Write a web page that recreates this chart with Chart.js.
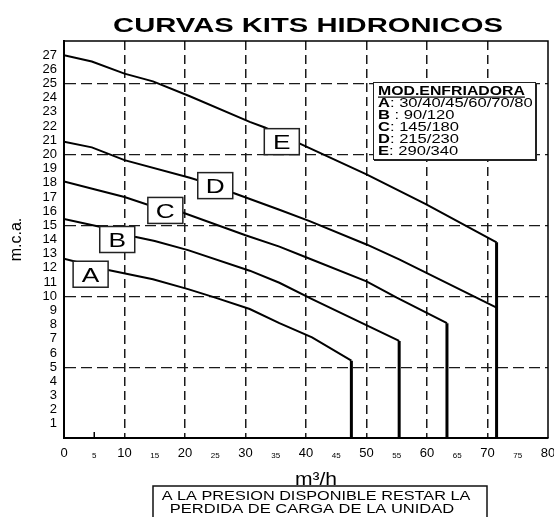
<!DOCTYPE html>
<html>
<head>
<meta charset="utf-8">
<script src="https://cdn.jsdelivr.net/npm/chart.js@4.4.1/dist/chart.umd.min.js"></script>
<style>
  html, body { margin: 0; padding: 0; background: #fff; }
  #wrap { width: 554px; height: 517px; position: relative; }
</style>
</head>
<body>
<div id="wrap"><canvas id="kitsChart"></canvas></div>
<script>
const flowA = [0, 7.3, 14.7, 20.5, 25, 30.7, 35.6, 41, 47.5, 47.5];
const headA = [12.65, 11.85, 11.2, 10.5, 9.9, 9.1, 8.1, 7.1, 5.45, 0];

const flowB = [0, 5.9, 11.7, 15, 20.5, 30.7, 35.6, 41, 55.4, 55.4];
const headB = [15.45, 14.9, 14.2, 13.9, 13.25, 11.8, 10.95, 9.8, 6.85, 0];

const flowC = [0, 5, 10, 16.7, 19.6, 30, 35.6, 40, 50, 55, 63.3, 63.3];
const headC = [18.1, 17.55, 17.0, 16.05, 15.9, 14.3, 13.5, 12.75, 11.05, 9.9, 8.1, 0];

const flowD = [0, 4.6, 10, 20.8, 25, 27.9, 35.6, 40.6, 50, 55.4, 71.5];
const headD = [20.9, 20.5, 19.6, 18.35, 17.8, 17.3, 16.1, 15.3, 13.65, 12.6, 9.2];

const flowE = [0, 4.6, 10, 14.7, 20.8, 30.7, 33.2, 38.8, 50, 59.8, 71.5, 71.5];
const headE = [27.0, 26.55, 25.7, 25.15, 24.1, 22.3, 21.9, 20.8, 18.6, 16.5, 13.8, 0];

const curveNames = ['A', 'B', 'C', 'D', 'E'];
// donde va la etiqueta de cada curva (m3/h, m.c.a.)
const labelFlow = [4.4, 8.8, 16.75, 25.0, 36.0];
const labelHead = [11.55, 14.0, 16.05, 17.8, 20.9];

const legendTitle = 'MOD.ENFRIADORA';
const legendSeps = [': ', ' : ', ': ', ': ', ': '];
const legendModels = ['30/40/45/60/70/80', '90/120', '145/180', '215/230', '290/340'];

const chartTitle = 'CURVAS KITS HIDRONICOS';
const xTitle = 'm\u00B3/h';
const yTitle = 'm.c.a.';
const noteLines = ['A LA PRESION DISPONIBLE RESTAR LA', 'PERDIDA DE CARGA DE LA UNIDAD'];

const FONT = "'Liberation Sans', Arial, sans-serif";

function points(xs, ys) {
    return xs.map((x, i) => ({ x: x, y: ys[i] }));
}

function stretchText(ctx, text, x, y, font, sx, align) {
    ctx.save();
    ctx.font = font;
    ctx.translate(x, y);
    ctx.scale(sx, 1);
    ctx.textAlign = align || 'left';
    ctx.textBaseline = 'alphabetic';
    ctx.fillStyle = '#000';
    ctx.fillText(text, 0, 0);
    const w = ctx.measureText(text).width * sx;
    ctx.restore();
    return w;
}

const decorations = {
    id: 'decorations',
    afterDraw(chart) {
        const ctx = chart.ctx;
        const area = chart.chartArea;
        const xs = chart.scales.x;
        const ys = chart.scales.y;

        // marco superior y derecho, y la marquita del 5
        ctx.save();
        ctx.strokeStyle = '#000';
        ctx.lineWidth = 1.5;
        ctx.beginPath();
        ctx.moveTo(area.left, area.top);
        ctx.lineTo(area.right, area.top);
        ctx.lineTo(area.right, area.bottom);
        const x5 = xs.getPixelForValue(5);
        ctx.moveTo(x5, area.bottom);
        ctx.lineTo(x5, area.bottom - 6);
        ctx.stroke();
        ctx.restore();

        // etiquetas de las curvas
        curveNames.forEach((name, i) => {
            const cx = xs.getPixelForValue(labelFlow[i]);
            const cy = ys.getPixelForValue(labelHead[i]);
            ctx.save();
            ctx.fillStyle = '#fff';
            ctx.fillRect(cx - 17.5, cy - 13, 35, 26);
            ctx.strokeStyle = '#222';
            ctx.lineWidth = 1.5;
            ctx.strokeRect(cx - 17.5, cy - 13, 35, 26);
            ctx.restore();
            stretchText(ctx, name, cx, cy + 7.5, '21px ' + FONT, 1.25, 'center');
        });

        // cuadro de modelos
        ctx.save();
        ctx.fillStyle = '#fff';
        ctx.fillRect(373, 82, 163, 78);
        ctx.strokeStyle = '#222';
        ctx.lineWidth = 1;
        ctx.strokeRect(373.5, 82.5, 162, 77);
        ctx.lineWidth = 2;
        ctx.beginPath();
        ctx.moveTo(536, 83);
        ctx.lineTo(536, 160);
        ctx.lineTo(374, 160);
        ctx.stroke();
        ctx.restore();

        const hw = stretchText(ctx, legendTitle, 378, 95, 'bold 12px ' + FONT, 1.32, 'left');
        ctx.save();
        ctx.fillStyle = '#000';
        ctx.fillRect(378, 96.5, hw, 1.2);
        ctx.restore();

        const baselines = [107, 119, 131, 143.3, 155];
        curveNames.forEach((name, i) => {
            const w = stretchText(ctx, name, 378, baselines[i], 'bold 12px ' + FONT, 1.38, 'left');
            stretchText(ctx, legendSeps[i] + legendModels[i], 378 + w, baselines[i], '12px ' + FONT, 1.38, 'left');
        });

        // titulo
        stretchText(ctx, chartTitle, 308, 32, 'bold 21px ' + FONT, 1.39, 'center');

        // titulo eje x
        stretchText(ctx, xTitle, 316, 485, '18px ' + FONT, 1.17, 'center');

        // nota inferior
        ctx.save();
        ctx.strokeStyle = '#111';
        ctx.lineWidth = 1.5;
        ctx.strokeRect(153, 486, 334, 40);
        ctx.restore();
        stretchText(ctx, noteLines[0], 316, 500, '13px ' + FONT, 1.25, 'center');
        stretchText(ctx, noteLines[1], 312, 512.5, '13px ' + FONT, 1.27, 'center');
    }
};

function curve(xs, ys) {
    return {
        data: points(xs, ys),
        borderColor: '#000',
        borderWidth: 2,
        pointRadius: 0,
        fill: false,
        tension: 0,
        segment: {
            borderWidth: c => (c.p1.parsed.y === 0 ? 3 : 2)
        }
    };
}

document.addEventListener('DOMContentLoaded', function() {
    const ctx = document.getElementById('kitsChart').getContext('2d');

    const config = {
        type: 'line',
        data: {
            datasets: [
                curve(flowA, headA),
                curve(flowB, headB),
                curve(flowC, headC),
                curve(flowD, headD),
                curve(flowE, headE)
            ]
        },
        options: {
            responsive: true,
            maintainAspectRatio: false,
            animation: false,
            layout: { padding: { top: 41, left: 0, right: 6, bottom: 0 } },
            plugins: {
                legend: { display: false },
                title: { display: false },
                tooltip: { enabled: false }
            },
            scales: {
                x: {
                    type: 'linear',
                    min: 0,
                    max: 80,
                    afterFit: function(scale) {
                        scale.height = 79;
                        scale.paddingLeft = 0;
                        scale.paddingRight = 0;
                    },
                    ticks: {
                        stepSize: 5,
                        autoSkip: false,
                        maxRotation: 0,
                        padding: 8,
                        color: '#000',
                        font: c => (c.tick && c.tick.value % 10 === 0)
                            ? { family: FONT, size: 13, lineHeight: 1.2 }
                            : { family: FONT, size: 8, lineHeight: 2.4 }
                    },
                    grid: {
                        drawTicks: false,
                        lineWidth: 1.5,
                        color: c => {
                            const v = c.tick ? c.tick.value : 0;
                            return (v % 10 === 0 && v > 0 && v < 80) ? '#1a1a1a' : 'rgba(0,0,0,0)';
                        }
                    },
                    border: { display: true, color: '#000', width: 2, dash: [9, 5] }
                },
                y: {
                    min: 0,
                    max: 28,
                    afterFit: function(scale) {
                        scale.width = 64;
                    },
                    ticks: {
                        stepSize: 1,
                        autoSkip: false,
                        padding: 7,
                        color: '#000',
                        font: { family: FONT, size: 13 },
                        callback: v => (v >= 1 && v <= 27) ? v : ''
                    },
                    grid: {
                        drawTicks: false,
                        lineWidth: 1.2,
                        color: c => {
                            const v = c.tick ? c.tick.value : 0;
                            return (v % 5 === 0 && v > 0 && v < 28) ? '#1a1a1a' : 'rgba(0,0,0,0)';
                        }
                    },
                    border: { display: true, color: '#000', width: 2, dash: [11, 5] },
                    title: {
                        display: true,
                        text: yTitle,
                        color: '#000',
                        font: { family: FONT, size: 16 },
                        padding: { top: 7, bottom: 0 }
                    }
                }
            }
        },
        plugins: [decorations]
    };

    const kitsChart = new Chart(ctx, config);
});
</script>
</body>
</html>
